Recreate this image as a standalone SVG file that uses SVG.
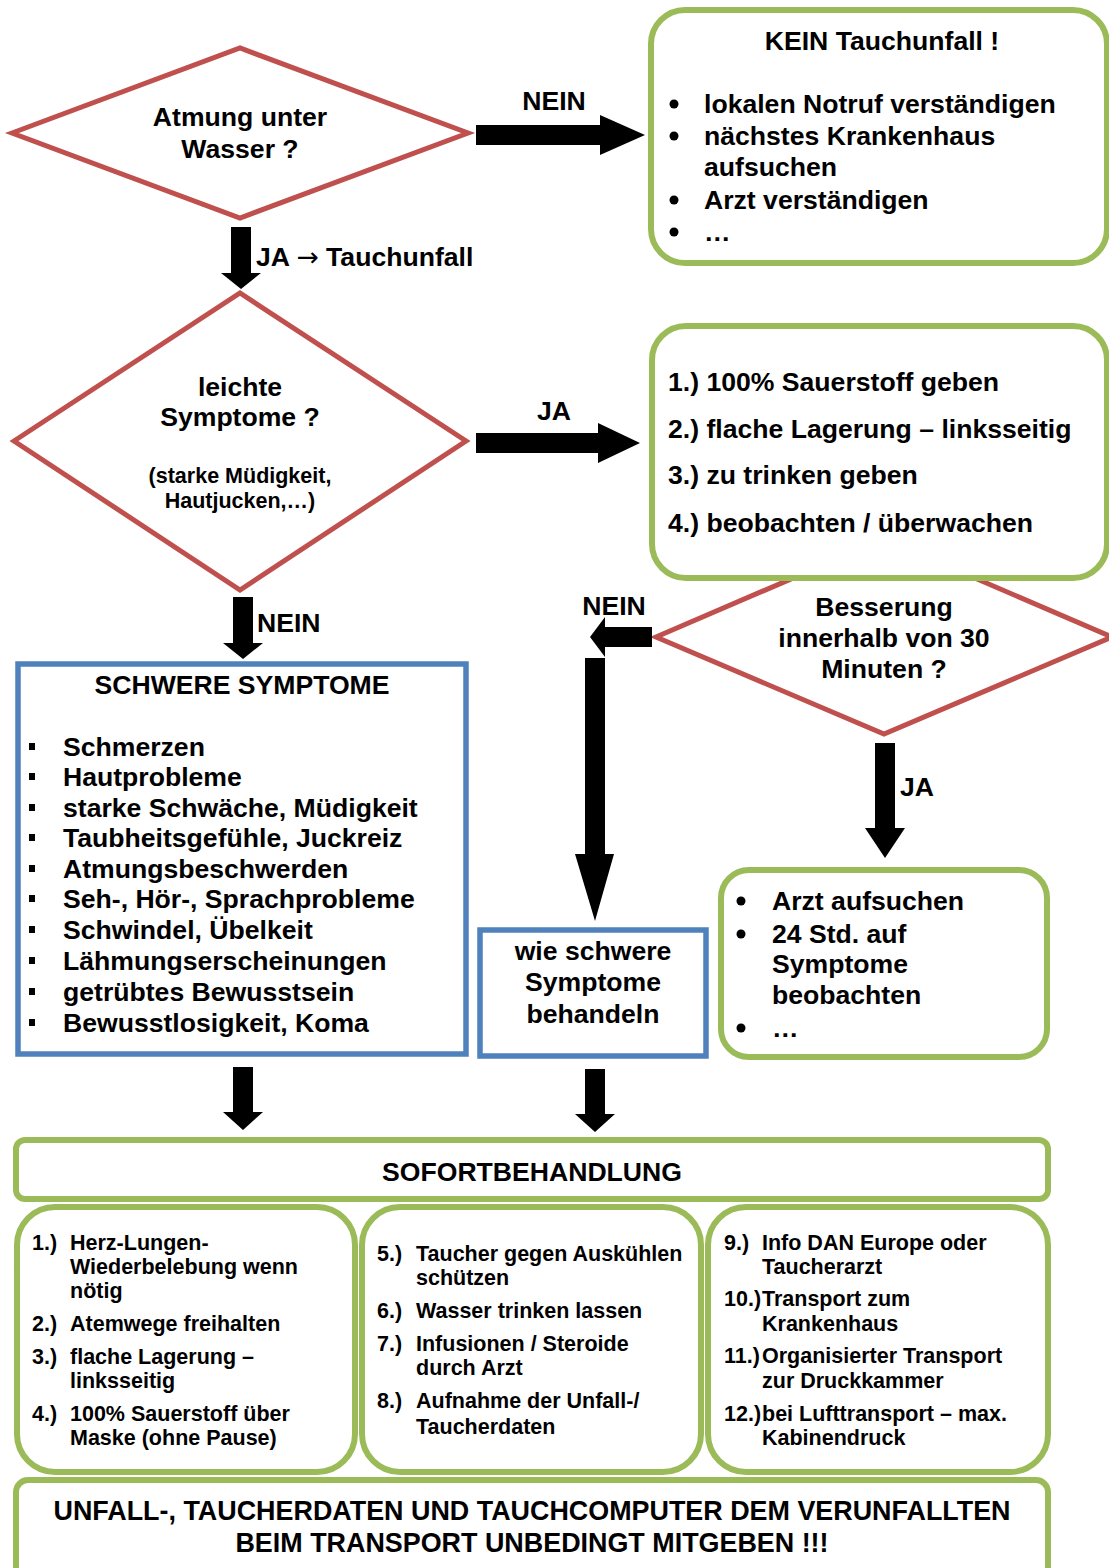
<svg xmlns="http://www.w3.org/2000/svg" width="1109" height="1568" viewBox="0 0 1109 1568">
<style>
text{font-family:"Liberation Sans",Arial,sans-serif;font-weight:bold;fill:#000}
.t26{font-size:26.6px}
.t27{font-size:26.9px}
.t21{font-size:21.5px}
.c{text-anchor:middle}
.sym{font-family:"DejaVu Sans",sans-serif;font-weight:normal}
.dia{fill:#fff;stroke:#C0504D;stroke-width:5}
.grn{fill:#fff;stroke:#9BBB59;stroke-width:6}
.blu{fill:#fff;stroke:#4F81BD;stroke-width:5.5}
.arr{fill:#000}
</style>
<rect width="1109" height="1568" fill="#fff"/>

<g id="q1">
<polygon class="dia" points="12,133 240,48 468,133 240,218"/>
<text class="t26 c" x="240" y="126">Atmung unter</text>
<text class="t26 c" x="240" y="158">Wasser ?</text>
</g>

<g id="kein">
<rect class="grn" x="651" y="10" width="456" height="253" rx="34"/>
<text class="t26 c" x="882" y="50">KEIN Tauchunfall !</text>
<circle cx="674" cy="104" r="4.5"/>
<circle cx="674" cy="136" r="4.5"/>
<circle cx="674" cy="200" r="4.5"/>
<circle cx="674" cy="232" r="4.5"/>
<text class="t26" x="704" y="113">lokalen Notruf verständigen</text>
<text class="t26" x="704" y="145">nächstes Krankenhaus</text>
<text class="t26" x="704" y="176">aufsuchen</text>
<text class="t26" x="704" y="209">Arzt verständigen</text>
<text class="t26" x="704" y="241">…</text>
</g>

<g id="q2">
<polygon class="dia" points="14,441 240,293 466,441 240,590"/>
<text class="t26 c" x="240" y="396">leichte</text>
<text class="t26 c" x="240" y="426">Symptome ?</text>
<text class="t21 c" x="240" y="483">(starke Müdigkeit,</text>
<text class="t21 c" x="240" y="508">Hautjucken,…)</text>
</g>

<g id="q3">
<polygon class="dia" points="656,637 884,539 1112,637 884,734"/>
<text class="t26 c" x="884" y="616">Besserung</text>
<text class="t26 c" x="884" y="647">innerhalb von 30</text>
<text class="t26 c" x="884" y="678">Minuten ?</text>
</g>

<g id="leicht">
<rect class="grn" x="652" y="326" width="455" height="252" rx="34"/>
<text class="t26" x="668" y="391">1.) 100% Sauerstoff geben</text>
<text class="t26" x="668" y="438">2.) flache Lagerung – linksseitig</text>
<text class="t26" x="668" y="484">3.) zu trinken geben</text>
<text class="t26" x="668" y="532">4.) beobachten / überwachen</text>
</g>

<g id="schwer">
<rect class="blu" x="18" y="664" width="448" height="390"/>
<text class="t26 c" x="242" y="694">SCHWERE SYMPTOME</text>
<g fill="#000">
<rect x="29" y="743" width="6" height="7"/>
<rect x="29" y="773" width="6" height="7"/>
<rect x="29" y="804" width="6" height="7"/>
<rect x="29" y="834" width="6" height="7"/>
<rect x="29" y="865" width="6" height="7"/>
<rect x="29" y="895" width="6" height="7"/>
<rect x="29" y="926" width="6" height="7"/>
<rect x="29" y="957" width="6" height="7"/>
<rect x="29" y="988" width="6" height="7"/>
<rect x="29" y="1019" width="6" height="7"/>
</g>
<text class="t26" x="63" y="756">Schmerzen</text>
<text class="t26" x="63" y="786">Hautprobleme</text>
<text class="t26" x="63" y="817">starke Schwäche, Müdigkeit</text>
<text class="t26" x="63" y="847">Taubheitsgefühle, Juckreiz</text>
<text class="t26" x="63" y="878">Atmungsbeschwerden</text>
<text class="t26" x="63" y="908">Seh-, Hör-, Sprachprobleme</text>
<text class="t26" x="63" y="939">Schwindel, Übelkeit</text>
<text class="t26" x="63" y="970">Lähmungserscheinungen</text>
<text class="t26" x="63" y="1001">getrübtes Bewusstsein</text>
<text class="t26" x="63" y="1032">Bewusstlosigkeit, Koma</text>
</g>

<g id="wie">
<rect class="blu" x="480" y="930" width="226" height="126"/>
<text class="t26 c" x="593" y="960">wie schwere</text>
<text class="t26 c" x="593" y="991">Symptome</text>
<text class="t26 c" x="593" y="1023">behandeln</text>
</g>

<g id="arzt">
<rect class="grn" x="721" y="870" width="326" height="187" rx="28"/>
<circle cx="741" cy="901" r="4.5"/>
<circle cx="741" cy="934" r="4.5"/>
<circle cx="741" cy="1028" r="4.5"/>
<text class="t26" x="772" y="910">Arzt aufsuchen</text>
<text class="t26" x="772" y="943">24 Std. auf</text>
<text class="t26" x="772" y="973">Symptome</text>
<text class="t26" x="772" y="1004">beobachten</text>
<text class="t26" x="772" y="1037">…</text>
</g>

<g id="sofort">
<rect class="grn" x="16" y="1140" width="1032" height="59" rx="9"/>
<text class="t26 c" x="532" y="1181">SOFORTBEHANDLUNG</text>
</g>

<g id="boxA">
<rect class="grn" x="17" y="1207" width="338" height="265" rx="38"/>
<text class="t21" x="32" y="1250">1.)</text>
<text class="t21" x="70" y="1250">Herz-Lungen-</text>
<text class="t21" x="70" y="1274">Wiederbelebung wenn</text>
<text class="t21" x="70" y="1298">nötig</text>
<text class="t21" x="32" y="1331">2.)</text>
<text class="t21" x="70" y="1331">Atemwege freihalten</text>
<text class="t21" x="32" y="1364">3.)</text>
<text class="t21" x="70" y="1364">flache Lagerung –</text>
<text class="t21" x="70" y="1388">linksseitig</text>
<text class="t21" x="32" y="1421">4.)</text>
<text class="t21" x="70" y="1421">100% Sauerstoff über</text>
<text class="t21" x="70" y="1445">Maske (ohne Pause)</text>
</g>

<g id="boxB">
<rect class="grn" x="362" y="1207" width="339" height="265" rx="38"/>
<text class="t21" x="377" y="1261">5.)</text>
<text class="t21" x="416" y="1261">Taucher gegen Auskühlen</text>
<text class="t21" x="416" y="1285">schützen</text>
<text class="t21" x="377" y="1318">6.)</text>
<text class="t21" x="416" y="1318">Wasser trinken lassen</text>
<text class="t21" x="377" y="1351">7.)</text>
<text class="t21" x="416" y="1351">Infusionen / Steroide</text>
<text class="t21" x="416" y="1375">durch Arzt</text>
<text class="t21" x="377" y="1408">8.)</text>
<text class="t21" x="416" y="1408">Aufnahme der Unfall-/</text>
<text class="t21" x="416" y="1434">Taucherdaten</text>
</g>

<g id="boxC">
<rect class="grn" x="708" y="1207" width="340" height="265" rx="38"/>
<text class="t21" x="724" y="1250">9.)</text>
<text class="t21" x="762" y="1250">Info DAN Europe oder</text>
<text class="t21" x="762" y="1274">Taucherarzt</text>
<text class="t21" x="724" y="1306">10.)</text>
<text class="t21" x="762" y="1306">Transport zum</text>
<text class="t21" x="762" y="1331">Krankenhaus</text>
<text class="t21" x="724" y="1363">11.)</text>
<text class="t21" x="762" y="1363">Organisierter Transport</text>
<text class="t21" x="762" y="1388">zur Druckkammer</text>
<text class="t21" x="724" y="1421">12.)</text>
<text class="t21" x="762" y="1421">bei Lufttransport – max.</text>
<text class="t21" x="762" y="1445">Kabinendruck</text>
</g>

<g id="mitgeben">
<rect class="grn" x="16" y="1480" width="1032" height="100" rx="12"/>
<text class="t27 c" x="532" y="1520">UNFALL-, TAUCHERDATEN UND TAUCHCOMPUTER DEM VERUNFALLTEN</text>
<text class="t27 c" x="532" y="1552">BEIM TRANSPORT UNBEDINGT MITGEBEN !!!</text>
</g>

<g id="connectors">
<polygon class="arr" points="476,125 600,125 600,115 645,135 600,155 600,145 476,145"/>
<text class="t26 c" x="554" y="110">NEIN</text>
<polygon class="arr" points="231,227 251,227 251,273 261,273 241,289 221,273 231,273"/>
<text class="t26" x="256" y="266">JA <tspan class="sym">→</tspan> Tauchunfall</text>
<polygon class="arr" points="476,433 598,433 598,423 640,443 598,463 598,453 476,453"/>
<text class="t26 c" x="554" y="420">JA</text>
<polygon class="arr" points="233,597 253,597 253,643 263,643 243,659 223,643 233,643"/>
<text class="t26" x="257" y="632">NEIN</text>
<polygon class="arr" points="652,627 605,627 605,617 590,637 605,657 605,647 652,647"/>
<text class="t26 c" x="614" y="615">NEIN</text>
<polygon class="arr" points="585,658 605,658 605,854 614,854 595,921 575,854 585,854"/>
<polygon class="arr" points="875,743 895,743 895,828 905,828 885,858 865,828 875,828"/>
<text class="t26" x="900" y="796">JA</text>
<polygon class="arr" points="233,1067 253,1067 253,1112 263,1112 243,1130 223,1112 233,1112"/>
<polygon class="arr" points="585,1069 605,1069 605,1114 615,1114 595,1132 575,1114 585,1114"/>
</g>
</svg>
